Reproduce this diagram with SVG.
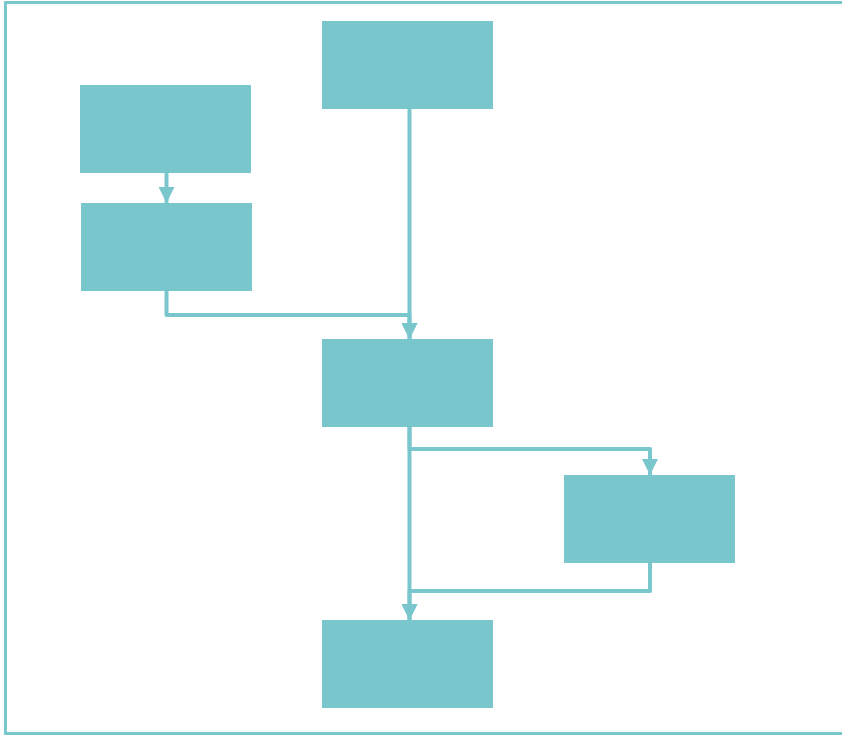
<svg xmlns="http://www.w3.org/2000/svg" width="842" height="735" viewBox="0 0 842 735">
<defs>
<style>
.node{fill:#79c7cd;}
.edge{fill:none;stroke:#79c7cd;stroke-width:4;stroke-linejoin:round;}
.frame{fill:none;stroke:#79c7cd;stroke-width:3;}
</style>
<marker id="arr" viewBox="0 0 16 16" refX="16" refY="8" markerWidth="16" markerHeight="16" markerUnits="userSpaceOnUse" orient="auto">
<path d="M0,0 L16,8 L0,16 Z" fill="#79c7cd"/>
</marker>
</defs>
<rect class="frame" x="5.5" y="2.5" width="840" height="731"/>
<g id="connectors">
<path class="edge" d="M166.5,173 V203" marker-end="url(#arr)"/>
<path class="edge" d="M409.5,109 V339" marker-end="url(#arr)"/>
<path class="edge" d="M166.5,291 V315 H409.5 V339" marker-end="url(#arr)"/>
<path class="edge" d="M409.5,427 V449 H650 V475" marker-end="url(#arr)"/>
<path class="edge" d="M409.5,427 V620" marker-end="url(#arr)"/>
<path class="edge" d="M650,563 V591 H409.5 V620" marker-end="url(#arr)"/>
</g>
<g id="node-a"><rect class="node" x="80" y="85" width="171" height="88"/></g>
<g id="node-b"><rect class="node" x="81" y="203" width="171" height="88"/></g>
<g id="node-c"><rect class="node" x="322" y="21" width="171" height="88"/></g>
<g id="node-d"><rect class="node" x="322" y="339" width="171" height="88"/></g>
<g id="node-e"><rect class="node" x="564" y="475" width="171" height="88"/></g>
<g id="node-f"><rect class="node" x="322" y="620" width="171" height="88"/></g>
</svg>
